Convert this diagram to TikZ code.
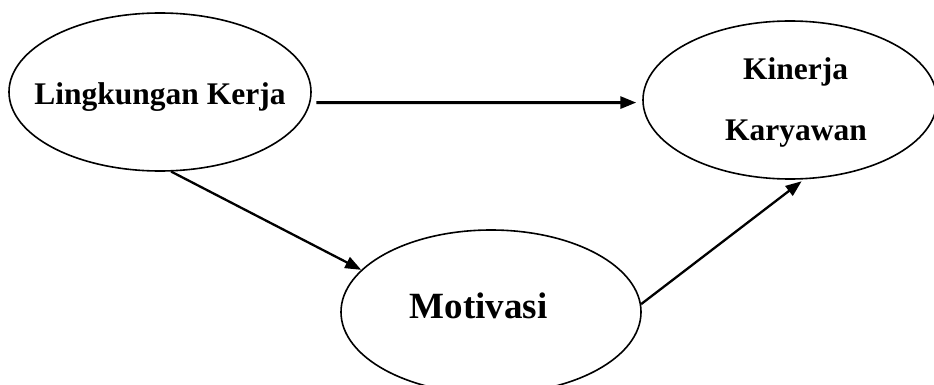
\documentclass[tikz,border=0pt]{standalone}
\usepackage{fontspec}
\setmainfont{Liberation Serif}
\usetikzlibrary{shapes.geometric,arrows.meta}
\begin{document}
\begin{tikzpicture}[x=1pt,y=-1pt,
  var/.style={draw,ellipse,line width=1.6pt,inner sep=0pt},
  lbl/.style={font=\bfseries\fontsize{31.5}{36}\selectfont,inner sep=0pt,anchor=base},
  biglbl/.style={font=\bfseries\fontsize{37}{42}\selectfont,inner sep=0pt,anchor=base},
  link/.style={line width=2.3pt,-{Triangle[length=16pt,width=12pt]}}]
\useasboundingbox (0,0) rectangle (934,385);
\clip (0,0) rectangle (934,385);
% variables
\node[var,minimum width=302pt,minimum height=158pt] (L) at (160,92) {};
\node[var,minimum width=294pt,minimum height=158pt] (K) at (790,100) {};
\node[var,minimum width=300pt,minimum height=164pt] (M) at (491,312) {};
% labels
\node[lbl] (Lt) at (160,105) {Lingkungan Kerja};
\node[lbl] (Kt1) at (795.5,80) {Kinerja};
\node[lbl] (Kt2) at (796,140) {Karyawan};
\node[biglbl] (Mt) at (478.5,318) {Motivasi};
% paths
\draw[link,line width=3pt,shorten <=6pt,shorten >=6pt] (L.-4) -- (K.181);
\draw[link] (L.-82) -- (M.162);
\draw[link,shorten >=3pt] (M.3.5) -- (K.-80.3);
\end{tikzpicture}
\end{document}
